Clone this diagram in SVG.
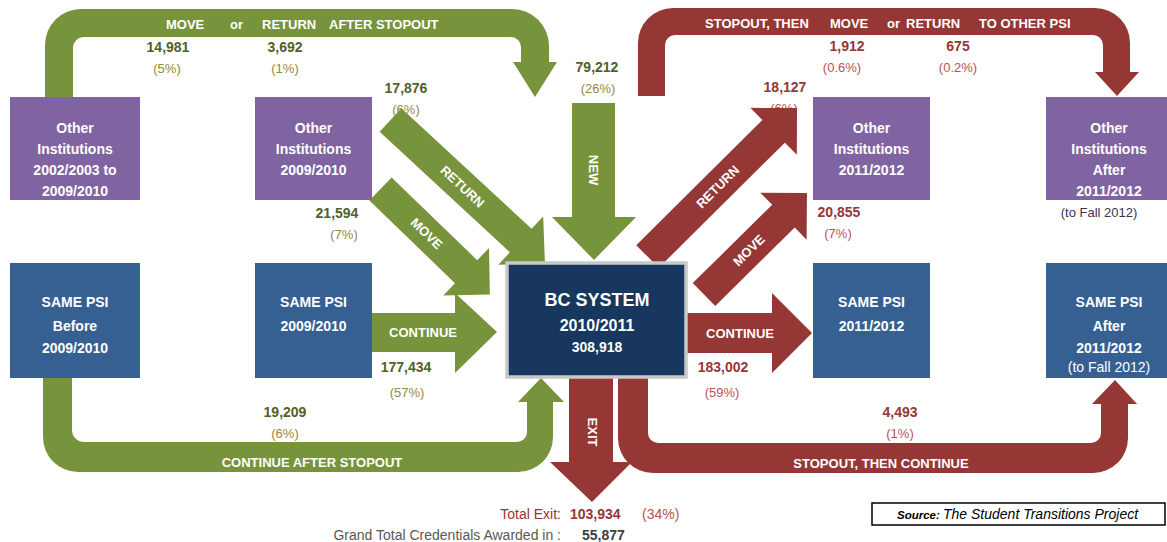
<svg xmlns="http://www.w3.org/2000/svg" width="1167" height="542" viewBox="0 0 1167 542">
<style>
text{font-family:"Liberation Sans",Arial,sans-serif}
.g{fill:#77933c}
.r{fill:#953735}
.pu{fill:#8064a2}
.bl{fill:#376092}
.bt{fill:#fff;font-weight:bold;font-size:14px;text-anchor:middle}
.al{fill:#fff;font-weight:bold;font-size:13px;text-anchor:middle}
.band{fill:#fff;font-weight:bold;font-size:13px}
.gn{fill:#4f6228;font-weight:bold;font-size:14px;text-anchor:middle}
.gp{fill:#948a40;font-size:13px;text-anchor:middle}
.rn{fill:#953735;font-weight:bold;font-size:14px;text-anchor:middle}
.rp{fill:#c0504d;font-size:13px;text-anchor:middle}
</style>
<rect width="1167" height="542" fill="#fff"/>
<g id="labels">
<text class="gn" x="168" y="52">14,981</text><text class="gp" x="167" y="73">(5%)</text>
<text class="gn" x="285" y="52">3,692</text><text class="gp" x="285" y="73">(1%)</text>
<text class="gn" x="597" y="72">79,212</text><text class="gp" x="598" y="93">(26%)</text>
<text class="gn" x="406" y="93">17,876</text><text class="gp" x="406" y="114">(6%)</text>
<text class="gn" x="337" y="218">21,594</text><text class="gp" x="344" y="239">(7%)</text>
<text class="gn" x="406" y="372">177,434</text><text class="gp" x="407" y="397">(57%)</text>
<text class="gn" x="285" y="417">19,209</text><text class="gp" x="285" y="438">(6%)</text>
<text class="rn" x="847" y="51">1,912</text><text class="rp" x="842" y="72">(0.6%)</text>
<text class="rn" x="958" y="51">675</text><text class="rp" x="958" y="72">(0.2%)</text>
<text class="rn" x="785" y="92">18,127</text><text class="rp" x="784" y="113">(6%)</text>
<text class="rn" x="839" y="217">20,855</text><text class="rp" x="838" y="238">(7%)</text>
<text class="rn" x="723" y="372">183,002</text><text class="rp" x="722" y="397">(59%)</text>
<text class="rn" x="900" y="417">4,493</text><text class="rp" x="900" y="438">(1%)</text>
<text x="1099" y="217" font-size="13" fill="#403152" text-anchor="middle">(to Fall 2012)</text>
<text x="561" y="519" font-size="14" fill="#953735" text-anchor="end">Total Exit:</text>
<text x="570" y="519" font-size="14" font-weight="bold" fill="#953735">103,934</text>
<text x="642" y="519" font-size="14" fill="#c0504d">(34%)</text>
<text x="561" y="540" font-size="14" fill="#595959" text-anchor="end">Grand Total Credentials Awarded in :</text>
<text x="582" y="540" font-size="14" font-weight="bold" fill="#404040">55,877</text>
<rect x="872" y="503" width="293" height="22" fill="none" stroke="#000" stroke-width="1.5"/>
<text x="897" y="519" font-size="11.5" font-style="italic" font-weight="bold" fill="#000">Source:</text>
<text x="943" y="519" font-size="14" font-style="italic" fill="#000">The Student Transitions Project</text>
</g>
<g id="connectors">
<path class="g" d="M45,97 V45 A36,36 0 0 1 81,9 H512 A37,37 0 0 1 549,46 V62 H557 L535,97 L513,62 H521 V47 A10,10 0 0 0 511,37 H84 A11,11 0 0 0 73,48 V97 Z"/>
<text class="band"><tspan x="166" y="29">MOVE</tspan><tspan x="230" y="29">or</tspan><tspan x="262" y="29">RETURN</tspan><tspan x="329" y="29">AFTER STOPOUT</tspan></text>
<path class="r" d="M638,96 V43 A35,35 0 0 1 673,8 H1095 A35,35 0 0 1 1130,43 V72 H1139 L1117,96 L1095,72 H1103 V45 A10,10 0 0 0 1093,35 H675 A10,10 0 0 0 665,45 V96 Z"/>
<text class="band"><tspan x="705" y="28">STOPOUT, THEN</tspan><tspan x="830" y="28">MOVE</tspan><tspan x="887" y="28">or</tspan><tspan x="906" y="28">RETURN</tspan><tspan x="979" y="28">TO OTHER PSI</tspan></text>
<path class="g" d="M43,378 V437 A35,35 0 0 0 78,472 H518 A35,35 0 0 0 553,437 V402 H564 L541,378 L518,402 H527 V432 A10,10 0 0 1 517,442 H84 A12,12 0 0 1 72,430 V378 Z"/>
<text class="band" x="312" y="467" text-anchor="middle">CONTINUE AFTER STOPOUT</text>
<path class="r" d="M618,378 V438 A35,35 0 0 0 653,473 H1093 A35,35 0 0 0 1128,438 V404 H1137 L1115,380 L1092,404 H1101 V433 A10,10 0 0 1 1091,443 H658 A10,10 0 0 1 648,433 V378 Z"/>
<text class="band" x="881" y="468" text-anchor="middle">STOPOUT, THEN CONTINUE</text>
<polygon class="r" points="569,378 613,378 613,462 632,462 592,502 550,462 569,462"/>
<text class="al" transform="translate(592,432) rotate(90)" x="0" y="4.5">EXIT</text>
<polygon class="g" points="572,103 615,103 615,217 636,217 594,260 552,217 572,217"/>
<text class="al" transform="translate(593,170) rotate(90)" x="0" y="4.5">NEW</text>
<polygon class="g" points="372,313 455,313 455,293 497,332 455,373 455,352 372,352"/>
<text class="al" x="423" y="337">CONTINUE</text>
<polygon class="r" points="686,313 772,313 772,293 812,333 772,373 772,353 686,353"/>
<text class="al" x="740" y="338">CONTINUE</text>
<g transform="translate(390.5,120) rotate(42.8)">
<polygon class="g" points="0,-16 177.5,-16 177.5,-33 210.5,0 177.5,33 177.5,16 0,16"/>
<text class="al" x="98" y="4.5">RETURN</text>
</g>
<g transform="translate(380.5,189) rotate(44)">
<polygon class="g" points="0,-16 119,-16 119,-33 152,0 119,33 119,16 0,16"/>
<text class="al" x="64" y="4.5">MOVE</text>
</g>
<g transform="translate(647.5,256.5) rotate(-44.8)">
<polygon class="r" points="0,-16 177.7,-16 177.7,-33 210.7,0 177.7,33 177.7,16 0,16"/>
<text class="al" x="99" y="4.5">RETURN</text>
</g>
<g transform="translate(704,294.5) rotate(-44.6)">
<polygon class="r" points="0,-16 111.6,-16 111.6,-33 144.6,0 111.6,33 111.6,16 0,16"/>
<text class="al" x="63" y="4.5">MOVE</text>
</g>
</g>
<g id="oi-early">
<rect class="pu" x="10" y="97" width="130" height="103"/>
<text class="bt" x="75" y="133">Other</text><text class="bt" x="75" y="154">Institutions</text><text class="bt" x="75" y="175">2002/2003 to</text><text class="bt" x="75" y="196">2009/2010</text>
</g>
<g id="oi-0910">
<rect class="pu" x="255" y="97" width="117" height="103"/>
<text class="bt" x="313.5" y="133">Other</text><text class="bt" x="313.5" y="154">Institutions</text><text class="bt" x="313.5" y="175">2009/2010</text>
</g>
<g id="oi-1112">
<rect class="pu" x="813" y="97" width="117" height="103"/>
<text class="bt" x="871.5" y="133">Other</text><text class="bt" x="871.5" y="154">Institutions</text><text class="bt" x="871.5" y="175">2011/2012</text>
</g>
<g id="oi-after">
<rect class="pu" x="1046" y="97" width="126" height="103"/>
<text class="bt" x="1109" y="133">Other</text><text class="bt" x="1109" y="154">Institutions</text><text class="bt" x="1109" y="175">After</text><text class="bt" x="1109" y="196">2011/2012</text>
</g>
<g id="same-before">
<rect class="bl" x="10" y="263" width="130" height="115"/>
<text class="bt" x="75" y="307">SAME PSI</text><text class="bt" x="75" y="331">Before</text><text class="bt" x="75" y="353">2009/2010</text>
</g>
<g id="same-0910">
<rect class="bl" x="255" y="263" width="117" height="115"/>
<text class="bt" x="313.5" y="307">SAME PSI</text><text class="bt" x="313.5" y="331">2009/2010</text>
</g>
<g id="same-1112">
<rect class="bl" x="813" y="263" width="117" height="115"/>
<text class="bt" x="871.5" y="307">SAME PSI</text><text class="bt" x="871.5" y="331">2011/2012</text>
</g>
<g id="same-after">
<rect class="bl" x="1046" y="263" width="126" height="115"/>
<text class="bt" x="1109" y="307">SAME PSI</text><text class="bt" x="1109" y="331">After</text><text class="bt" x="1109" y="353">2011/2012</text><text x="1109" y="372" fill="#fff" font-size="14" text-anchor="middle">(to Fall 2012)</text>
</g>
<g id="bc-system">
<rect x="507" y="263" width="179" height="114" fill="#17375e" stroke="#c8c8c8" stroke-width="3.5"/>
<text x="597" y="306" fill="#fff" font-weight="bold" font-size="18" text-anchor="middle">BC SYSTEM</text>
<text x="597" y="331" fill="#fff" font-weight="bold" font-size="16" text-anchor="middle">2010/2011</text>
<text x="597" y="352" fill="#fff" font-weight="bold" font-size="14" text-anchor="middle">308,918</text>
</g>
</svg>
